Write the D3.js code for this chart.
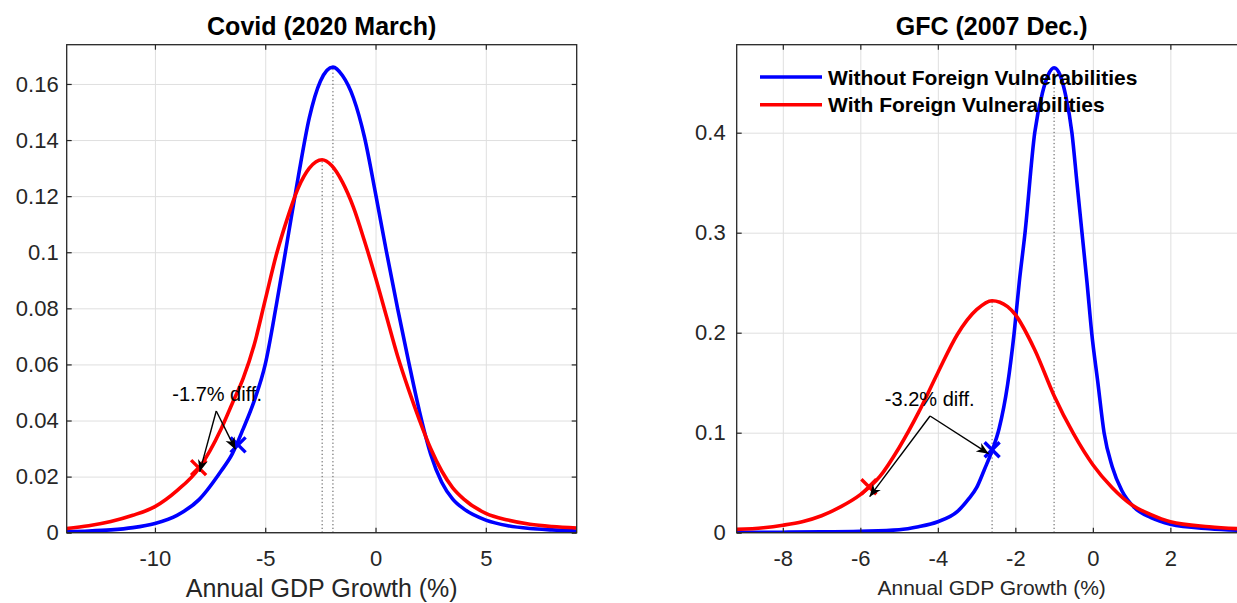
<!DOCTYPE html>
<html>
<head>
<meta charset="utf-8">
<script src="https://cdn.jsdelivr.net/npm/d3@7"></script>
<style>
  body { margin: 0; background: #fff; }
  svg { display: block; font-family: "Liberation Sans", Arial, Helvetica, sans-serif; }
</style>
</head>
<body>
<svg id="chart" width="1237" height="603"></svg>
<script>
// ---- data ----
// Covid (2020 March)
var covidWithoutX = [-14,-13,-12,-11,-10,-9,-8,-7,-6.5,-6,-5.5,-5,-4.5,-4,-3.5,-3,-2.5,-1.93,-1.5,-1,-0.5,0,0.5,1,1.5,2,2.5,3,3.5,4,5,6,7,8,9.12];
var covidWithoutY = [0.0004,0.0006,0.001,0.0018,0.0033,0.0062,0.0118,0.022,0.028,0.037,0.047,0.060,0.081,0.104,0.127,0.148,0.161,0.166,0.163,0.155,0.141,0.121,0.1,0.08,0.061,0.043,0.028,0.018,0.012,0.0085,0.0045,0.0025,0.0015,0.001,0.0006];
var covidWithX = [-14,-13,-12,-11,-10,-9,-8,-7,-6.5,-6,-5.5,-5,-4.5,-4,-3.5,-3,-2.42,-2,-1.5,-1,-0.5,0,0.5,1,1.5,2,2.5,3,3.5,4,5,6,7,8,9.12];
var covidWithY = [0.0015,0.0025,0.004,0.0062,0.0093,0.015,0.023,0.037,0.046,0.055,0.067,0.083,0.099,0.112,0.123,0.13,0.133,0.131,0.125,0.116,0.104,0.091,0.077,0.063,0.051,0.04,0.03,0.022,0.016,0.012,0.0069,0.0045,0.003,0.0022,0.0017];
var covidModes = [[-1.93, 0.166], [-2.42, 0.133]];           // blue, red
var covidMarks = [[-6.23, 0.0313], [-8.02, 0.0232]];          // blue, red
var covidArrowTail = [-7.22, 0.0434];
var covidArrowTips = [[-6.35, 0.0297], [-7.97, 0.0217]];
var covidNote = {x: -7.18, y: 0.047, text: "-1.7% diff."};
var covidXTicks = [-10, -5, 0, 5];
var covidYTicks = [0, 0.02, 0.04, 0.06, 0.08, 0.1, 0.12, 0.14, 0.16];

// GFC (2007 Dec.)
var gfcWithoutX = [-9.2,-8,-7,-6,-5,-4.5,-4,-3.5,-3.2,-3,-2.8,-2.6,-2.42,-2.2,-2.03,-1.9,-1.75,-1.5,-1.3,-1.15,-1,-0.85,-0.7,-0.54,-0.41,-0.28,-0.15,-0.03,0.13,0.29,0.5,0.75,1.05,1.5,2,3,4];
var gfcWithoutY = [0.0003,0.0005,0.0008,0.0015,0.003,0.006,0.011,0.021,0.034,0.045,0.063,0.082,0.104,0.148,0.2,0.25,0.3,0.4,0.44,0.458,0.465,0.458,0.437,0.4,0.35,0.3,0.25,0.2,0.15,0.1,0.066,0.042,0.026,0.015,0.0085,0.004,0.002];
var gfcWithX = [-9.2,-8.5,-8,-7.5,-7,-6.5,-6,-5.5,-5,-4.5,-4,-3.5,-3,-2.6,-2.2,-2,-1.5,-1,-0.5,0,0.5,1,1.5,2,3,4];
var gfcWithY = [0.0033,0.005,0.0075,0.011,0.017,0.026,0.038,0.056,0.085,0.12,0.16,0.198,0.223,0.232,0.226,0.218,0.183,0.137,0.099,0.068,0.045,0.028,0.018,0.011,0.006,0.0035];
var gfcModes = [[-1.0, 0.465], [-2.6, 0.232]];
var gfcMarks = [[-2.6, 0.083], [-5.78, 0.046]];
var gfcArrowTail = [-4.2, 0.1167];
var gfcArrowTips = [[-2.69, 0.079], [-5.76, 0.036]];
var gfcNote = {x: -4.21, y: 0.1267, text: "-3.2% diff."};
var gfcXTicks = [-8, -6, -4, -2, 0, 2];
var gfcYTicks = [0, 0.1, 0.2, 0.3, 0.4];

var seriesNames = ["Without Foreign Vulnerabilities", "With Foreign Vulnerabilities"];
var seriesColors = ["#0000ff", "#ff0000"];

var axisColor = "#262626";

var svg = d3.select("#chart");
svg.append("rect").attr("width", 1237).attr("height", 603).attr("fill", "#fff");

// arrow head
svg.append("defs").append("marker")
  .attr("id", "head")
  .attr("viewBox", "-14 -7 16 14")
  .attr("refX", 0).attr("refY", 0)
  .attr("markerWidth", 16).attr("markerHeight", 14)
  .attr("markerUnits", "userSpaceOnUse")
  .attr("orient", "auto")
  .append("path")
  .attr("d", "M0,0 L-12,-5 L-8.5,0 L-12,5 Z")
  .attr("fill", "#000");

function drawPanel(p) {
  var x = d3.scaleLinear().domain(p.xDomain).range([p.left, p.left + p.width]);
  var y = d3.scaleLinear().domain(p.yDomain).range([p.top + p.height, p.top]);
  var bottom = p.top + p.height;
  var g = svg.append("g");

  g.append("clipPath").attr("id", p.id + "clip")
    .append("rect").attr("x", p.left).attr("y", p.top).attr("width", p.width).attr("height", p.height);

  // grid
  g.append("g").attr("transform", "translate(0," + bottom + ")")
    .call(d3.axisBottom(x).tickValues(p.xTicks).tickSize(-p.height).tickFormat(""))
    .call(function(s) { s.select(".domain").remove(); s.selectAll("line").attr("stroke", "#dfdfdf"); });
  g.append("g").attr("transform", "translate(" + p.left + ",0)")
    .call(d3.axisLeft(y).tickValues(p.yTicks).tickSize(-p.width).tickFormat(""))
    .call(function(s) { s.select(".domain").remove(); s.selectAll("line").attr("stroke", "#dfdfdf"); });

  var plot = g.append("g").attr("clip-path", "url(#" + p.id + "clip)");

  // dotted lines at the modes
  plot.selectAll(".mode").data(p.modes).enter().append("line")
    .attr("x1", function(d) { return x(d[0]); })
    .attr("x2", function(d) { return x(d[0]); })
    .attr("y1", y(0))
    .attr("y2", function(d) { return y(d[1]); })
    .attr("stroke", "#555")
    .attr("stroke-width", 1)
    .attr("stroke-dasharray", "1.3,2.4");

  var line = d3.line()
    .x(function(d) { return x(d[0]); })
    .y(function(d) { return y(d[1]); })
    .curve(d3.curveMonotoneX);

  p.series.forEach(function(s, i) {
    plot.append("path")
      .datum(d3.zip(s.x, s.y))
      .attr("d", line)
      .attr("fill", "none")
      .attr("stroke", seriesColors[i])
      .attr("stroke-width", 3.6);
  });

  // x markers
  p.marks.forEach(function(m, i) {
    var cx = x(m[0]), cy = y(m[1]), r = 7.5;
    g.append("path")
      .attr("d", "M" + (cx - r) + "," + (cy - r) + "L" + (cx + r) + "," + (cy + r) +
                 "M" + (cx - r) + "," + (cy + r) + "L" + (cx + r) + "," + (cy - r))
      .attr("stroke", seriesColors[i])
      .attr("stroke-width", 3.4)
      .attr("fill", "none");
  });

  // annotation arrows
  p.tips.forEach(function(t) {
    g.append("line")
      .attr("x1", x(p.tail[0])).attr("y1", y(p.tail[1]))
      .attr("x2", x(t[0])).attr("y2", y(t[1]))
      .attr("stroke", "#000").attr("stroke-width", 1.4)
      .attr("marker-end", "url(#head)");
  });
  g.append("text")
    .attr("x", x(p.note.x)).attr("y", y(p.note.y))
    .attr("text-anchor", "middle")
    .attr("font-size", 20)
    .attr("fill", "#000")
    .text(p.note.text);

  // axes with inward ticks on all four sides
  function styleAxis(s) {
    s.select(".domain").remove();
    s.selectAll("line").attr("stroke", axisColor).attr("stroke-width", 1.2);
    s.selectAll("text").attr("font-size", 22).attr("fill", axisColor)
      .attr("font-family", "'Liberation Sans', Arial, sans-serif");
  }
  var xFmt = function(d) { return String(d); };
  var yFmt = function(d) { return String(+d.toFixed(3)); };
  g.append("g").attr("transform", "translate(0," + bottom + ")")
    .call(d3.axisBottom(x).tickValues(p.xTicks).tickSize(-5).tickPadding(18).tickFormat(xFmt))
    .call(styleAxis);
  g.append("g").attr("transform", "translate(0," + p.top + ")")
    .call(d3.axisTop(x).tickValues(p.xTicks).tickSize(-5).tickFormat(""))
    .call(styleAxis);
  g.append("g").attr("transform", "translate(" + p.left + ",0)")
    .call(d3.axisLeft(y).tickValues(p.yTicks).tickSize(-5).tickPadding(p.yPad).tickFormat(yFmt))
    .call(styleAxis);
  g.append("g").attr("transform", "translate(" + (p.left + p.width) + ",0)")
    .call(d3.axisRight(y).tickValues(p.yTicks).tickSize(-5).tickFormat(""))
    .call(styleAxis);

  g.append("rect")
    .attr("x", p.left).attr("y", p.top).attr("width", p.width).attr("height", p.height)
    .attr("fill", "none").attr("stroke", axisColor).attr("stroke-width", 1.3);

  // title and x label
  g.append("text")
    .attr("x", p.left + p.width / 2).attr("y", 35)
    .attr("text-anchor", "middle")
    .attr("font-size", 25).attr("font-weight", "bold").attr("fill", "#000")
    .text(p.title);
  g.append("text")
    .attr("x", p.left + p.width / 2).attr("y", p.xlabelY)
    .attr("text-anchor", "middle")
    .attr("font-size", p.xlabelSize).attr("fill", axisColor)
    .text("Annual GDP Growth (%)");

  return {x: x, y: y, g: g};
}

drawPanel({
  id: "covid", left: 66.7, top: 44.7, width: 510, height: 488,
  xDomain: [-14, 9.12], yDomain: [0, 0.174],
  xTicks: covidXTicks, yTicks: covidYTicks, yPad: 8,
  series: [{x: covidWithoutX, y: covidWithoutY}, {x: covidWithX, y: covidWithY}],
  modes: covidModes, marks: covidMarks,
  tail: covidArrowTail, tips: covidArrowTips, note: covidNote,
  title: "Covid (2020 March)", xlabelSize: 25, xlabelY: 597
});

var gfc = drawPanel({
  id: "gfc", left: 736.7, top: 44.7, width: 510, height: 488,
  xDomain: [-9.19, 3.97], yDomain: [0, 0.488],
  xTicks: gfcXTicks, yTicks: gfcYTicks, yPad: 11,
  series: [{x: gfcWithoutX, y: gfcWithoutY}, {x: gfcWithX, y: gfcWithY}],
  modes: gfcModes, marks: gfcMarks,
  tail: gfcArrowTail, tips: gfcArrowTips, note: gfcNote,
  title: "GFC (2007 Dec.)", xlabelSize: 21, xlabelY: 595
});

// legend (no box) in the GFC panel
var legend = gfc.g.append("g").attr("transform", "translate(760,77)");
seriesNames.forEach(function(name, i) {
  var row = legend.append("g").attr("transform", "translate(0," + (i * 27.7) + ")");
  row.append("line").attr("x1", 0).attr("x2", 62).attr("y1", 0).attr("y2", 0)
    .attr("stroke", seriesColors[i]).attr("stroke-width", 3.6);
  row.append("text").attr("x", 68).attr("y", 0).attr("dy", "0.36em")
    .attr("font-size", 21).attr("font-weight", "bold").attr("fill", "#000")
    .text(name);
});
</script>
</body>
</html>
